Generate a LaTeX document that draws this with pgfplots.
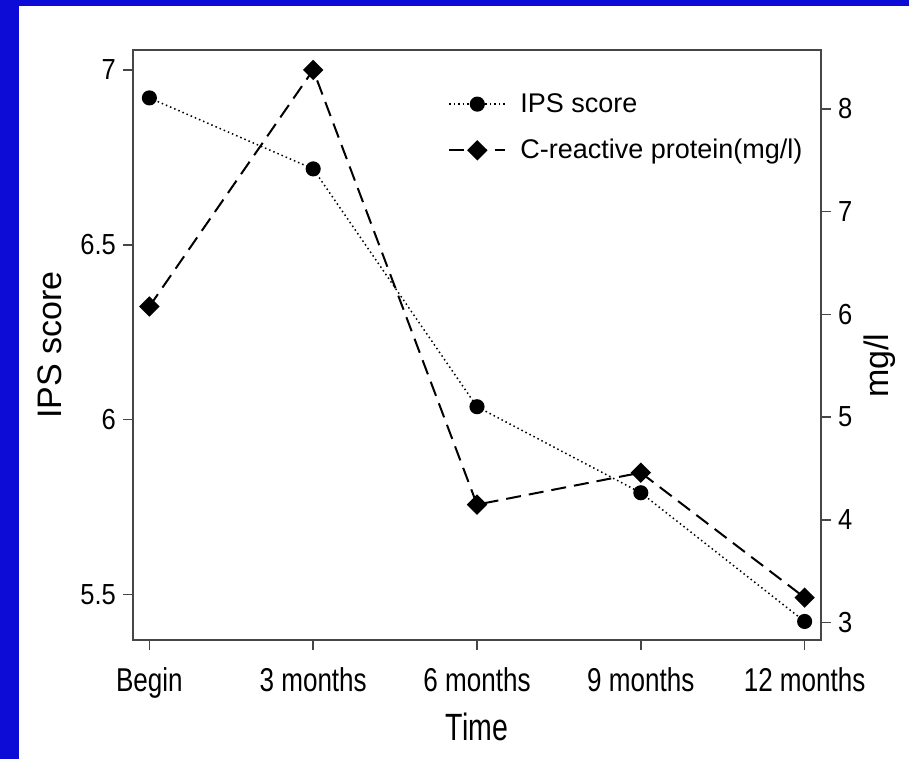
\documentclass[border=0pt]{standalone}
\usepackage{fontspec}
\setmainfont{Liberation Sans}
\newfontfamily\narrowfont{Liberation Sans}[FakeStretch=0.79]
\newfontfamily\ynarrowfont{Liberation Sans}[FakeStretch=0.88]
\newfontfamily\timefont{Liberation Sans}[FakeStretch=0.75]
\usepackage{pgfplots}
\pgfplotsset{compat=1.18}
\definecolor{slideblue}{RGB}{12,12,214}
\definecolor{axgray}{RGB}{70,70,70}

\pgfplotsset{
  ipsstyle/.style={black, line width=0.75pt, dash pattern=on 0.75pt off 1.5pt,
    mark=*, mark size=3.4pt, mark options={solid}},
  crpstyle/.style={black, line width=1pt, dash pattern=on 7.5pt off 4pt,
    mark=square*, mark size=3.1pt, mark options={solid, rotate=45}},
  common/.style={
    at={(66.5pt,59.5pt)}, anchor=south west,
    scale only axis, width=344pt, height=295pt,
    xmin=-0.1, xmax=4.1,
    tick align=outside, major tick length=5pt,
    axis line style={axgray, line width=0.8pt},
    every tick/.style={axgray, line width=0.8pt},
    yticklabel style={font=\ynarrowfont\fontsize{14.5}{16}\selectfont},
    xticklabel style={font=\narrowfont\fontsize{16.5}{18}\selectfont, yshift=-5.5pt},
    ylabel style={font=\fontsize{17}{19}\selectfont},
  },
}

\begin{document}
\begin{tikzpicture}
\fill[slideblue] (0,0) rectangle (454.5pt,379.5pt);
\fill[white] (9.5pt,0) rectangle (454.5pt,376.5pt);

% left axis: IPS score
\begin{axis}[
  common,
  ymin=5.37, ymax=7.057,
  xtick={0,1,2,3,4},
  xticklabels={Begin,3 months,6 months,9 months,12 months},
  ytick={5.5,6,6.5,7}, yticklabels={5.5,6,6.5,7},
  xtick pos=lower, ytick pos=left,
  xlabel={Time},
  xlabel style={font=\timefont\fontsize{19}{21}\selectfont,
    at={(axis description cs:0.5,-0.147)}, anchor=center},
  ylabel={IPS score},
  ylabel style={at={(axis description cs:-0.121,0.5)}, anchor=center, rotate=0},
]
\addplot[ipsstyle] coordinates {
  (0,6.92) (1,6.717) (2,6.037) (3,5.791) (4,5.423)
};
\end{axis}

% right axis: C-reactive protein
\begin{axis}[
  common,
  ymin=2.83, ymax=8.574,
  axis x line=none, axis y line*=right,
  ytick={3,4,5,6,7,8}, yticklabels={3,4,5,6,7,8},
  ylabel={mg/l},
  ylabel style={at={(axis description cs:1.085,0.465)}, anchor=center, rotate=0},
  legend style={draw=none, fill=none, at={(axis description cs:0.449,0.941)},
    anchor=north west, font=\fontsize{13.5}{15}\selectfont, row sep=8pt,
    /tikz/every odd column/.append style={column sep=5pt}},
  legend cell align=left,
  legend image code/.code={
    \draw[mark repeat=2, mark phase=2, #1]
      plot coordinates {(0pt,0pt) (14pt,0pt) (28pt,0pt)};
  },
]
\addlegendimage{ipsstyle}
\addlegendentry{IPS score}
\addplot[crpstyle] coordinates {
  (0,6.077) (1,8.38) (2,4.148) (3,4.459) (4,3.243)
};
\addlegendentry{C-reactive protein(mg/l)}
\end{axis}
\end{tikzpicture}
\end{document}
